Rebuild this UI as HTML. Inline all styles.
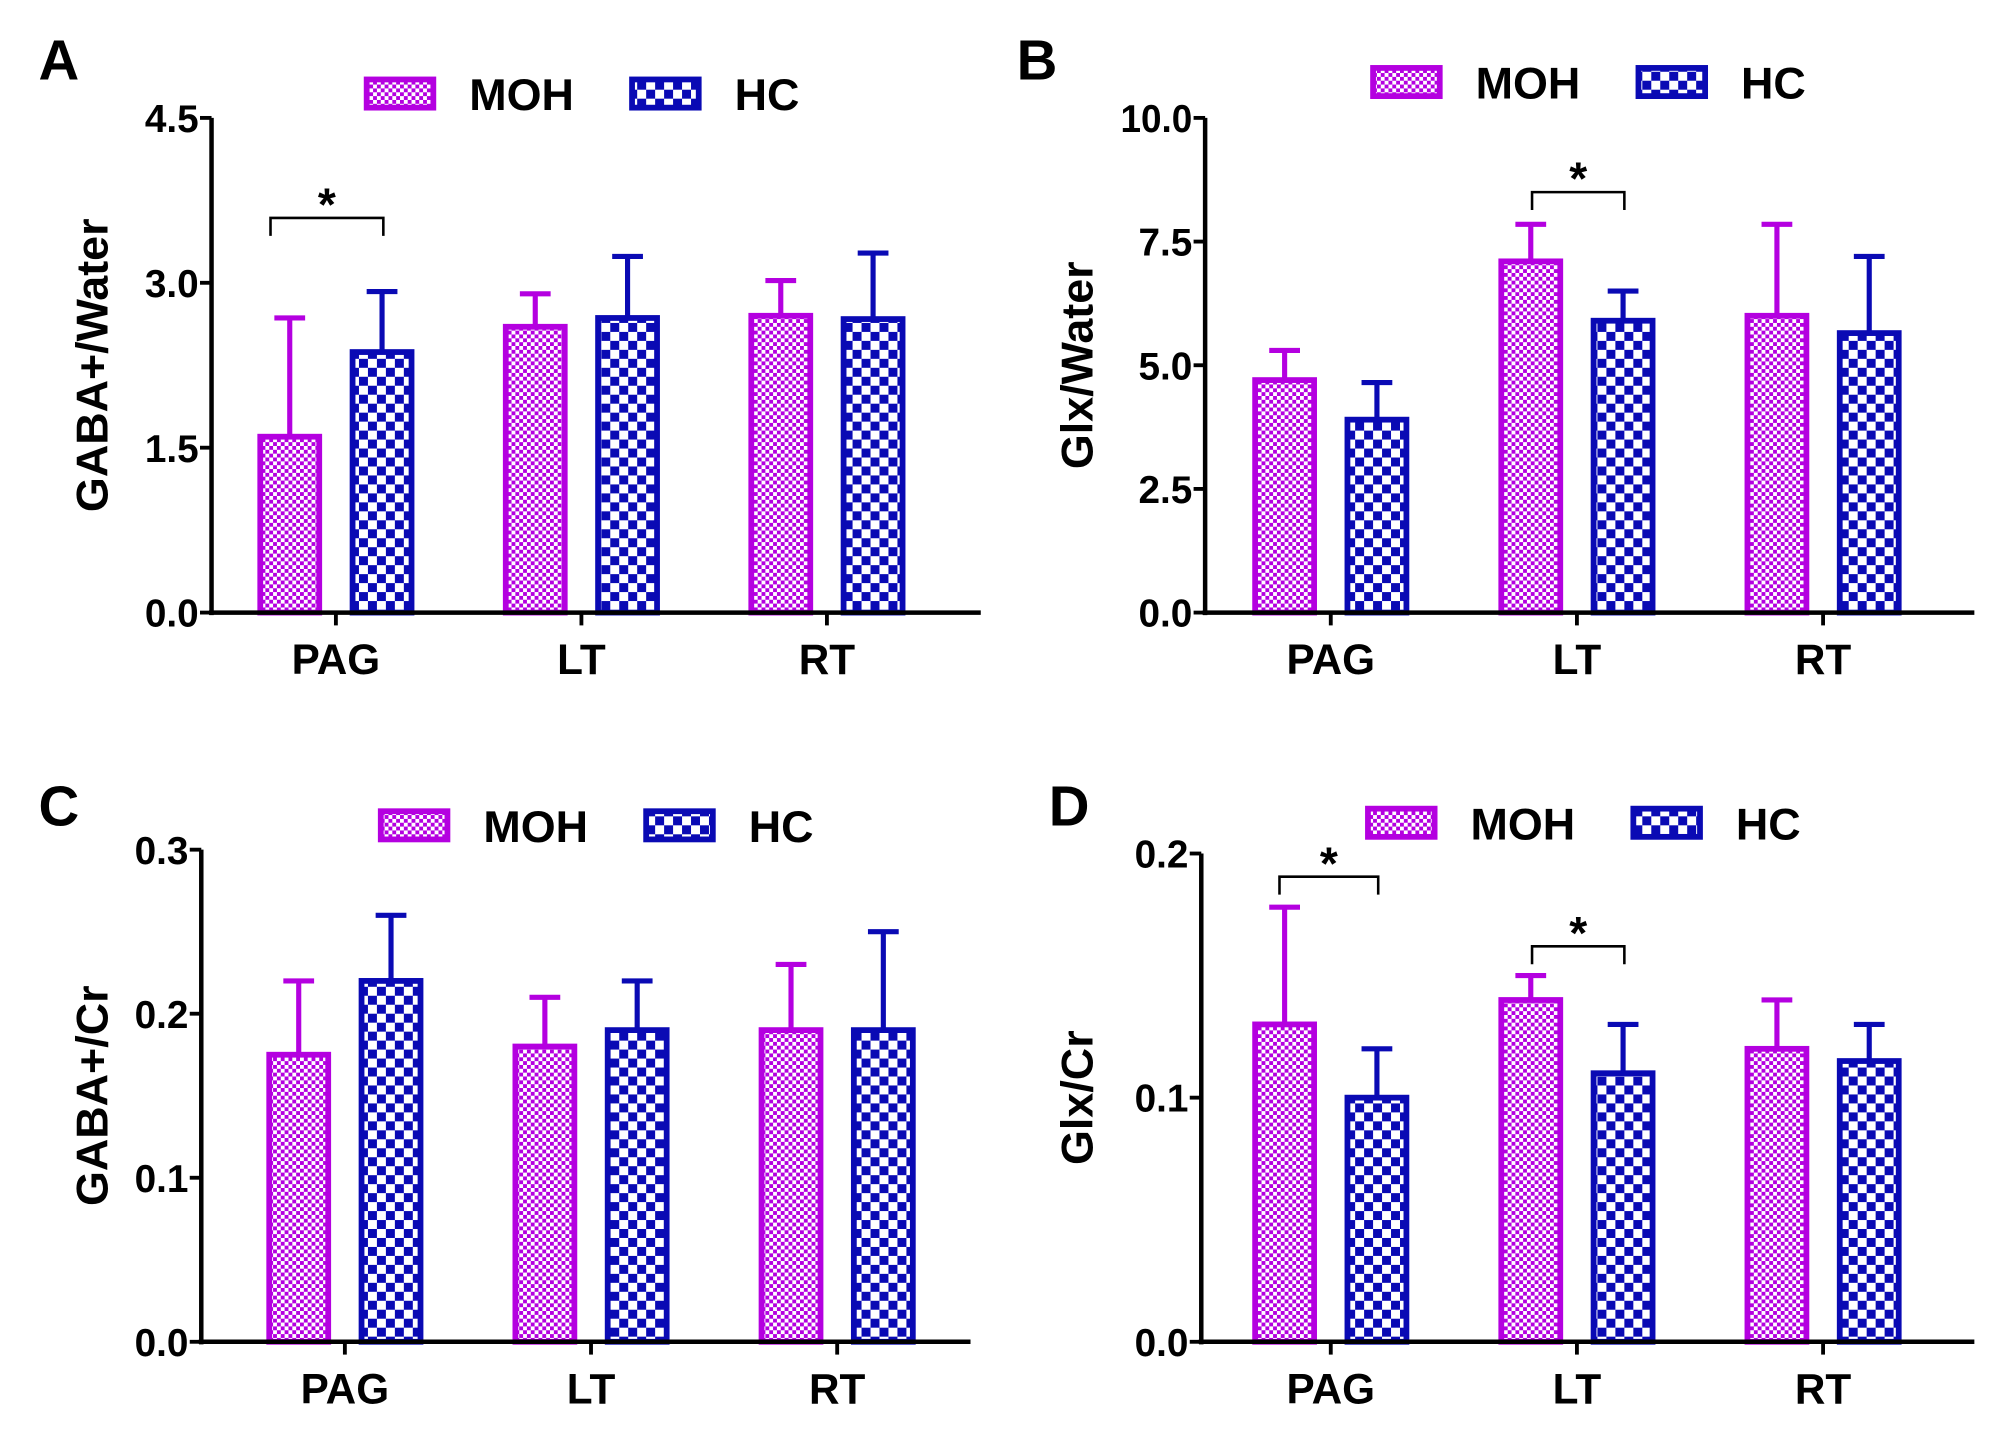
<!DOCTYPE html>
<html><head><meta charset="utf-8"><style>
html,body{margin:0;padding:0;background:#fff}
svg{display:block}
text{font-family:"Liberation Sans",Arial,sans-serif;font-weight:bold}
</style></head><body>
<svg id="fig" width="2000" height="1452" viewBox="0 0 1560 1133" preserveAspectRatio="none" xmlns="http://www.w3.org/2000/svg">
<defs>
<pattern id="pMOH" width="6" height="6" patternUnits="userSpaceOnUse">
<rect width="6" height="6" fill="#fff"/><rect width="3" height="3" fill="#b400e0"/><rect x="3" y="3" width="3" height="3" fill="#b400e0"/>
</pattern>
<pattern id="pHC" width="14" height="14" patternUnits="userSpaceOnUse">
<rect width="14" height="14" fill="#fff"/><rect width="7" height="7" fill="#0a0ab4"/><rect x="7" y="7" width="7" height="7" fill="#0a0ab4"/>
</pattern>
</defs>
<g id="root"></g>
</svg>
<script>
const categories = ["PAG","LT","RT"];
// Panel A: GABA+/Water
const mohA = [1.6, 2.6, 2.7];
const mohAErr = [2.68, 2.9, 3.02];
const hcA = [2.37, 2.68, 2.67];
const hcAErr = [2.92, 3.24, 3.27];
const ticksA = [0, 1.5, 3.0, 4.5];
const tickLabelsA = ["0.0","1.5","3.0","4.5"];
// Panel B: Glx/Water
const mohB = [4.7, 7.1, 6.0];
const mohBErr = [5.3, 7.85, 7.85];
const hcB = [3.9, 5.9, 5.65];
const hcBErr = [4.65, 6.5, 7.2];
const ticksB = [0, 2.5, 5, 7.5, 10];
const tickLabelsB = ["0.0","2.5","5.0","7.5","10.0"];
// Panel C: GABA+/Cr
const mohC = [0.175, 0.18, 0.19];
const mohCErr = [0.22, 0.21, 0.23];
const hcC = [0.22, 0.19, 0.19];
const hcCErr = [0.26, 0.22, 0.25];
const ticksC = [0, 0.1, 0.2, 0.3];
const tickLabelsC = ["0.0","0.1","0.2","0.3"];
// Panel D: Glx/Cr
const mohD = [0.13, 0.14, 0.12];
const mohDErr = [0.178, 0.15, 0.14];
const hcD = [0.10, 0.11, 0.115];
const hcDErr = [0.12, 0.13, 0.13];
const ticksD = [0, 0.1, 0.2];
const tickLabelsD = ["0.0","0.1","0.2"];

const NS = "http://www.w3.org/2000/svg";
const root = document.getElementById("root");
const MAG = "#b400e0", BLU = "#0a0ab4";
function mk(tag, attrs, parent, txt){
  const e = document.createElementNS(NS, tag);
  for (const k in attrs) e.setAttribute(k, attrs[k]);
  if (txt !== undefined) e.textContent = txt;
  (parent||root).appendChild(e);
  return e;
}
function panel(cfg){
  const g = mk("g", {});
  
  
  const x0 = cfg.x0, x1 = cfg.x1, yTop = cfg.yTop, yBot = cfg.yBot, max = cfg.ticks[cfg.ticks.length-1];
  const ys = v => yBot - (v / max) * (yBot - yTop);
  const xs = i => cfg.cx0 + i * cfg.step;
  const L = mk("text", {x: cfg.lx, y: cfg.ly, "font-size": 44, fill: "#000"}, g, cfg.letter);
  
  
  for (let i = 0; i < categories.length; i++){
    [[cfg.moh, cfg.mohErr, -36, "url(#pMOH)", MAG, "moh"], [cfg.hc, cfg.hcErr, 36, "url(#pHC)", BLU, "hc"]].forEach(s => {
      const cx = xs(i) + s[2], w = 46;
      const eb = mk("g", {}, g);
      
      
      mk("line", {x1: cx, x2: cx, y1: ys(s[0][i]), y2: ys(s[1][i]), stroke: s[4], "stroke-width": 4}, eb);
      mk("line", {x1: cx - 12, x2: cx + 12, y1: ys(s[1][i]), y2: ys(s[1][i]), stroke: s[4], "stroke-width": 4}, eb);
      const r = mk("rect", {x: cx - w/2, y: ys(s[0][i]), width: w, height: yBot - ys(s[0][i]), fill: s[3], stroke: s[4], "stroke-width": 4.5}, g);
      
      
    });
  }
  const ya = mk("line", {x1: x0, x2: x0, y1: yTop, y2: yBot + 2, stroke: "#000", "stroke-width": 3.5}, g);
  
  
  const xa = mk("line", {x1: x0 - 2, x2: x1, y1: yBot, y2: yBot, stroke: "#000", "stroke-width": 3.5}, g);
  
  
  cfg.ticks.forEach((t, k) => {
    mk("line", {x1: x0 - 9, x2: x0, y1: ys(t), y2: ys(t), stroke: "#000", "stroke-width": 3}, g);
    const tl = mk("text", {x: x0 - 10, y: ys(t) + 11, "font-size": 30, "text-anchor": "end", fill: "#000", "textLength": cfg.tickLabels[k].length * 14, "lengthAdjust": "spacingAndGlyphs"}, g, cfg.tickLabels[k]);
    
    
  });
  categories.forEach((c, i) => {
    mk("line", {x1: xs(i), x2: xs(i), y1: yBot, y2: yBot + 10, stroke: "#000", "stroke-width": 3}, g);
    const cl = mk("text", {x: xs(i), y: yBot + 48, "font-size": 33, "text-anchor": "middle", fill: "#000"}, g, c);
    
    
  });
  const yt = mk("text", {x: 0, y: 0, "font-size": 35, "text-anchor": "middle", fill: "#000", transform: "translate(" + cfg.tx + "," + ((yTop + yBot) / 2) + ") rotate(-90)"}, g, cfg.title);
  
  
  const lg = mk("g", {}, g);
  
  
  const le1 = mk("rect", {x: cfg.legX, y: cfg.legY, width: 52, height: 22, fill: "url(#pMOH)", stroke: MAG, "stroke-width": 4.5}, lg);
  
  
  mk("text", {x: cfg.legX + 80, y: cfg.legY + 24, "font-size": 35, fill: "#000"}, lg, "MOH");
  const le2 = mk("rect", {x: cfg.legX + 207, y: cfg.legY, width: 52, height: 22, fill: "url(#pHC)", stroke: BLU, "stroke-width": 4.5}, lg);
  
  
  mk("text", {x: cfg.legX + 287, y: cfg.legY + 24, "font-size": 35, fill: "#000"}, lg, "HC");
  (cfg.sig || []).forEach(s => {
    const sg = mk("g", {}, g);
    
    
    const a = xs(s.i) + s.a, b = xs(s.i) + 37, y = ys(s.v);
    mk("path", {d: "M" + a + "," + (y + 14) + " V" + y + " H" + b + " V" + (y + 14), fill: "none", stroke: "#000", "stroke-width": 2}, sg);
    mk("text", {x: (a + b) / 2, y: y + 2, "font-size": 36, "text-anchor": "middle", fill: "#000"}, sg, "*");
  });
}
panel({letter: "A", lx: 30, ly: 62, x0: 165, x1: 765, yTop: 92, yBot: 478, cx0: 262, step: 191.5,
  moh: mohA, mohErr: mohAErr, hc: hcA, hcErr: hcAErr, ticks: ticksA, tickLabels: tickLabelsA,
  title: "GABA+/Water", tx: 84, legX: 286, legY: 62, sig: [{i: 0, v: 3.59, a: -51}]});
panel({letter: "B", lx: 793, ly: 62, x0: 940, x1: 1540, yTop: 92, yBot: 478, cx0: 1038, step: 192,
  moh: mohB, mohErr: mohBErr, hc: hcB, hcErr: hcBErr, ticks: ticksB, tickLabels: tickLabelsB,
  title: "Glx/Water", tx: 852, legX: 1071, legY: 53, sig: [{i: 1, v: 8.5, a: -35}]});
panel({letter: "C", lx: 30, ly: 644, x0: 157, x1: 757, yTop: 663, yBot: 1047, cx0: 269, step: 192,
  moh: mohC, mohErr: mohCErr, hc: hcC, hcErr: hcCErr, ticks: ticksC, tickLabels: tickLabelsC,
  title: "GABA+/Cr", tx: 84, legX: 297, legY: 633, sig: []});
panel({letter: "D", lx: 818, ly: 644, x0: 937, x1: 1540, yTop: 666, yBot: 1047, cx0: 1038, step: 192,
  moh: mohD, mohErr: mohDErr, hc: hcD, hcErr: hcDErr, ticks: ticksD, tickLabels: tickLabelsD,
  title: "Glx/Cr", tx: 852, legX: 1067, legY: 631, sig: [{i: 0, v: 0.1905, a: -40}, {i: 1, v: 0.162, a: -35}]});
</script>
</body></html>
